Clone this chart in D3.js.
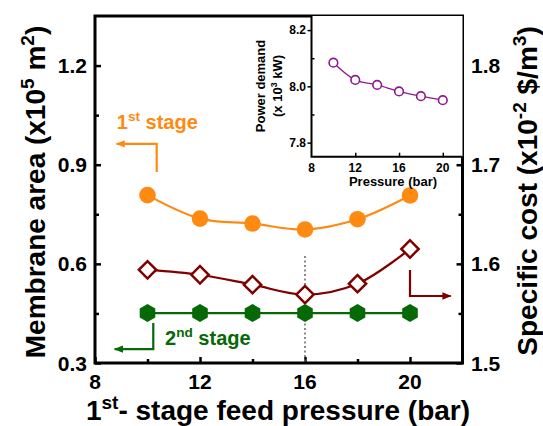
<!DOCTYPE html>
<html>
<head>
<meta charset="utf-8">
<script src="https://cdn.jsdelivr.net/npm/d3@7"></script>
<style>
  html, body { margin: 0; padding: 0; background: #fff; }
  svg { display: block; }
  text { font-family: "Liberation Sans", Arial, Helvetica, sans-serif; font-weight: bold; }
</style>
</head>
<body>
<script>
// Feed pressure of the first stage (bar)
const pressure = [10, 12, 14, 16, 18, 20];
// Membrane area, first stage (x10^5 m^2)
const area1st = [0.808, 0.737, 0.722, 0.704, 0.735, 0.807];
// Membrane area, second stage (x10^5 m^2)
const area2nd = [0.451, 0.451, 0.451, 0.451, 0.451, 0.451];
// Specific cost (x10^-2 $/m^3)
const specCost = [1.594, 1.589, 1.579, 1.569, 1.580, 1.615];
// Power demand (x10^3 kW)
const power = [8.084, 8.023, 8.005, 7.982, 7.965, 7.951];

const xTicks = [8, 12, 16, 20];
const leftTicks = [0.3, 0.6, 0.9, 1.2];
const rightTicks = [1.5, 1.6, 1.7, 1.8];
const insetYTicks = [7.8, 8.0, 8.2];
const optimumPressure = 16;

const W = 543, H = 426;
const C = { orange: "#ff8a12", red: "#800000", green: "#056905", purple: "#8e1a8e" };

const svg = d3.select("body").append("svg").attr("width", W).attr("height", H);

const x = d3.scaleLinear().domain([8, 22]).range([95, 462.5]);
const yL = d3.scaleLinear().domain([0.3, 1.35]).range([363, 16]);
const yR = d3.scaleLinear().domain([1.5, 1.85]).range([363, 16]);

const defs = svg.append("defs");
function arrowMarker(id, color) {
  defs.append("marker").attr("id", id)
    .attr("viewBox", "0 0 10 10").attr("refX", 9).attr("refY", 5)
    .attr("markerWidth", 4.2).attr("markerHeight", 4.2)
    .attr("markerUnits", "strokeWidth").attr("orient", "auto")
    .append("path").attr("d", "M0,1 L10,5 L0,9 Z").attr("fill", color);
}
arrowMarker("arO", C.orange);
arrowMarker("arG", C.green);
arrowMarker("arR", C.red);

// ---- main axes (ticks point inward) ----
function minorsBetween(ticks) {
  const out = [];
  for (let i = 0; i < ticks.length - 1; i++) out.push((ticks[i] + ticks[i + 1]) / 2);
  return out;
}
const axisG = svg.append("g");
axisG.append("g").attr("transform", `translate(${x.range()[0]},0)`)
  .call(d3.axisRight(yL).tickValues(leftTicks).tickSize(6).tickFormat(""))
  .call(g => g.select(".domain").remove());
axisG.append("g").attr("transform", `translate(${x.range()[0]},0)`)
  .call(d3.axisRight(yL).tickValues(minorsBetween(leftTicks)).tickSize(4).tickFormat(""))
  .call(g => g.select(".domain").remove());
axisG.append("g").attr("transform", `translate(${x.range()[1]},0)`)
  .call(d3.axisLeft(yR).tickValues(rightTicks).tickSize(6).tickFormat(""))
  .call(g => g.select(".domain").remove());
axisG.append("g").attr("transform", `translate(${x.range()[1]},0)`)
  .call(d3.axisLeft(yR).tickValues(minorsBetween(rightTicks)).tickSize(4).tickFormat(""))
  .call(g => g.select(".domain").remove());
axisG.append("g").attr("transform", `translate(0,${yL.range()[0]})`)
  .call(d3.axisTop(x).tickValues(xTicks).tickSize(6).tickFormat(""))
  .call(g => g.select(".domain").remove());
axisG.append("g").attr("transform", `translate(0,${yL.range()[0]})`)
  .call(d3.axisTop(x).tickValues(minorsBetween(xTicks)).tickSize(4).tickFormat(""))
  .call(g => g.select(".domain").remove());
axisG.selectAll(".tick line").attr("stroke", "#000").attr("stroke-width", 2.5);

// frame
svg.append("rect")
  .attr("x", x.range()[0]).attr("y", yL.range()[1])
  .attr("width", x.range()[1] - x.range()[0]).attr("height", yL.range()[0] - yL.range()[1])
  .attr("fill", "none").attr("stroke", "#000").attr("stroke-width", 3);

// tick labels
svg.append("g").selectAll("text").data(leftTicks).join("text")
  .attr("x", 87).attr("y", d => yL(d)).attr("dy", "0.36em")
  .attr("text-anchor", "end").attr("font-size", 21).text(d => d3.format(".1f")(d));
svg.append("g").selectAll("text").data(rightTicks).join("text")
  .attr("x", 471).attr("y", d => yR(d)).attr("dy", "0.36em")
  .attr("text-anchor", "start").attr("font-size", 21).text(d => d3.format(".1f")(d));
svg.append("g").selectAll("text").data(xTicks).join("text")
  .attr("x", d => x(d)).attr("y", 389)
  .attr("text-anchor", "middle").attr("font-size", 21).text(d => d);

// text with superscript parts; the part after a superscript drops back to the baseline
function richText(g, parts, size) {
  const t = g.append("text").attr("font-size", size);
  let back = 0;
  parts.forEach(p => {
    if (p.sup) {
      t.append("tspan").attr("dy", -size * 0.4).attr("font-size", size * 0.68).text(p.sup);
      back = size * 0.4;
    } else {
      const s = t.append("tspan").text(p.t);
      if (back) s.attr("dy", back);
      back = 0;
    }
  });
  return t;
}
richText(svg, [{ t: "1" }, { sup: "st" }, { t: "- stage feed pressure (bar)" }], 28)
  .attr("x", 278).attr("y", 420).attr("text-anchor", "middle");
richText(svg, [{ t: "Membrane area (x10" }, { sup: "5" }, { t: " m" }, { sup: "2" }, { t: ")" }], 28)
  .attr("text-anchor", "middle")
  .attr("transform", "translate(45,192) rotate(-90)");
richText(svg, [{ t: "Specific cost (x10" }, { sup: "-2" }, { t: " $/m" }, { sup: "3" }, { t: ")" }], 28)
  .attr("text-anchor", "middle")
  .attr("transform", "translate(537,191) rotate(-90)");

// ---- data ----
const plot = svg.append("g");

// optimum pressure marker
plot.append("line")
  .attr("x1", x(optimumPressure)).attr("x2", x(optimumPressure))
  .attr("y1", yL(0.624)).attr("y2", yL(0.3))
  .attr("stroke", "#666").attr("stroke-width", 1.5).attr("stroke-dasharray", "2,2.5");

const lineL = d3.line().x((d, i) => x(pressure[i])).y(d => yL(d));
const lineR = d3.line().x((d, i) => x(pressure[i])).y(d => yR(d));

plot.append("path").datum(area1st).attr("d", lineL.curve(d3.curveCatmullRom.alpha(0.5)))
  .attr("fill", "none").attr("stroke", C.orange).attr("stroke-width", 2.2);
plot.append("path").datum(specCost).attr("d", lineR.curve(d3.curveCatmullRom.alpha(0.5)))
  .attr("fill", "none").attr("stroke", C.red).attr("stroke-width", 2.2);
plot.append("path").datum(area2nd).attr("d", lineL.curve(d3.curveLinear))
  .attr("fill", "none").attr("stroke", C.green).attr("stroke-width", 2.2);

plot.append("g").selectAll("circle").data(area1st).join("circle")
  .attr("cx", (d, i) => x(pressure[i])).attr("cy", d => yL(d)).attr("r", 8.3)
  .attr("fill", C.orange);

const diamond = d3.symbol().type(d3.symbolSquare).size(150);
plot.append("g").selectAll("path").data(specCost).join("path")
  .attr("d", diamond)
  .attr("transform", (d, i) => `translate(${x(pressure[i])},${yR(d)}) rotate(45)`)
  .attr("fill", "#fff").attr("stroke", C.red).attr("stroke-width", 2.5);

const hexR = 9;
const hexPts = d3.range(6).map(k => {
  const a = Math.PI / 3 * k - Math.PI / 2;
  return [hexR * Math.cos(a), hexR * Math.sin(a)];
});
plot.append("g").selectAll("path").data(area2nd).join("path")
  .attr("d", "M" + hexPts.map(p => p.join(",")).join("L") + "Z")
  .attr("transform", (d, i) => `translate(${x(pressure[i])},${yL(d)})`)
  .attr("fill", C.green);

// ---- series annotations ----
const ann = svg.append("g");
ann.append("path")
  .attr("d", `M${x(10.35)},${yL(0.878)} V${yL(0.963)} H${x(8.82)}`)
  .attr("fill", "none").attr("stroke", C.orange).attr("stroke-width", 2.2)
  .attr("marker-end", "url(#arO)");
richText(ann, [{ t: "1" }, { sup: "st" }, { t: " stage" }], 20)
  .attr("x", x(8.83)).attr("y", yL(1.008)).attr("fill", C.orange);

ann.append("path")
  .attr("d", `M${x(10.22)},${yL(0.421)} V${yL(0.342)} H${x(8.75)}`)
  .attr("fill", "none").attr("stroke", C.green).attr("stroke-width", 2.2)
  .attr("marker-end", "url(#arG)");
richText(ann, [{ t: "2" }, { sup: "nd" }, { t: " stage" }], 20)
  .attr("x", x(10.67)).attr("y", yL(0.354)).attr("fill", C.green);

ann.append("path")
  .attr("d", `M${x(20)},${yR(1.5938)} V${yR(1.5676)} H${x(21.55)}`)
  .attr("fill", "none").attr("stroke", C.red).attr("stroke-width", 2.2)
  .attr("marker-end", "url(#arR)");

// ---- inset: power demand ----
const xi = d3.scaleLinear().domain([8, 21.8]).range([311.5, 462.5]);
const yi = d3.scaleLinear().domain([7.75, 8.25]).range([156.7, 16]);
const inset = svg.append("g");
inset.append("rect")
  .attr("x", xi.range()[0]).attr("y", yi.range()[1])
  .attr("width", xi.range()[1] - xi.range()[0]).attr("height", yi.range()[0] - yi.range()[1])
  .attr("fill", "#fff");
const iax = inset.append("g");
iax.append("g").attr("transform", `translate(${xi.range()[0]},0)`)
  .call(d3.axisLeft(yi).tickValues(insetYTicks).tickSize(4).tickFormat(""))
  .call(g => g.select(".domain").remove());
iax.append("g").attr("transform", `translate(${xi.range()[0]},0)`)
  .call(d3.axisRight(yi).tickValues([7.9, 8.1]).tickSize(3).tickFormat(""))
  .call(g => g.select(".domain").remove());
iax.append("g").attr("transform", `translate(0,${yi.range()[0]})`)
  .call(d3.axisTop(xi).tickValues(xTicks.slice(1)).tickSize(4).tickFormat(""))
  .call(g => g.select(".domain").remove());
iax.selectAll(".tick line").attr("stroke", "#000").attr("stroke-width", 1.5);
inset.append("path")
  .attr("d", `M${xi.range()[0]},${yi.range()[1]} V${yi.range()[0]} H${xi.range()[1]}`)
  .attr("fill", "none").attr("stroke", "#000").attr("stroke-width", 2);

inset.append("g").selectAll("text").data(insetYTicks).join("text")
  .attr("x", 306).attr("y", d => yi(d)).attr("dy", "0.36em")
  .attr("text-anchor", "end").attr("font-size", 12).text(d => d3.format(".1f")(d));
inset.append("g").selectAll("text").data(xTicks).join("text")
  .attr("x", d => xi(d)).attr("y", 172)
  .attr("text-anchor", "middle").attr("font-size", 12).text(d => d);
inset.append("text").attr("x", 393).attr("y", 186)
  .attr("text-anchor", "middle").attr("font-size", 13).text("Pressure (bar)");
inset.append("text").attr("text-anchor", "middle").attr("font-size", 13)
  .attr("transform", "translate(265,86) rotate(-90)").text("Power demand");
richText(inset, [{ t: "(x 10" }, { sup: "3" }, { t: " kW)" }], 13)
  .attr("text-anchor", "middle")
  .attr("transform", "translate(282,86) rotate(-90)");

inset.append("path").datum(power)
  .attr("d", d3.line().x((d, i) => xi(pressure[i])).y(d => yi(d)).curve(d3.curveCatmullRom.alpha(0.5)))
  .attr("fill", "none").attr("stroke", C.purple).attr("stroke-width", 1.3);
inset.append("g").selectAll("circle").data(power).join("circle")
  .attr("cx", (d, i) => xi(pressure[i])).attr("cy", d => yi(d)).attr("r", 4.3)
  .attr("fill", "#fff").attr("stroke", C.purple).attr("stroke-width", 1.6);
</script>
</body>
</html>
